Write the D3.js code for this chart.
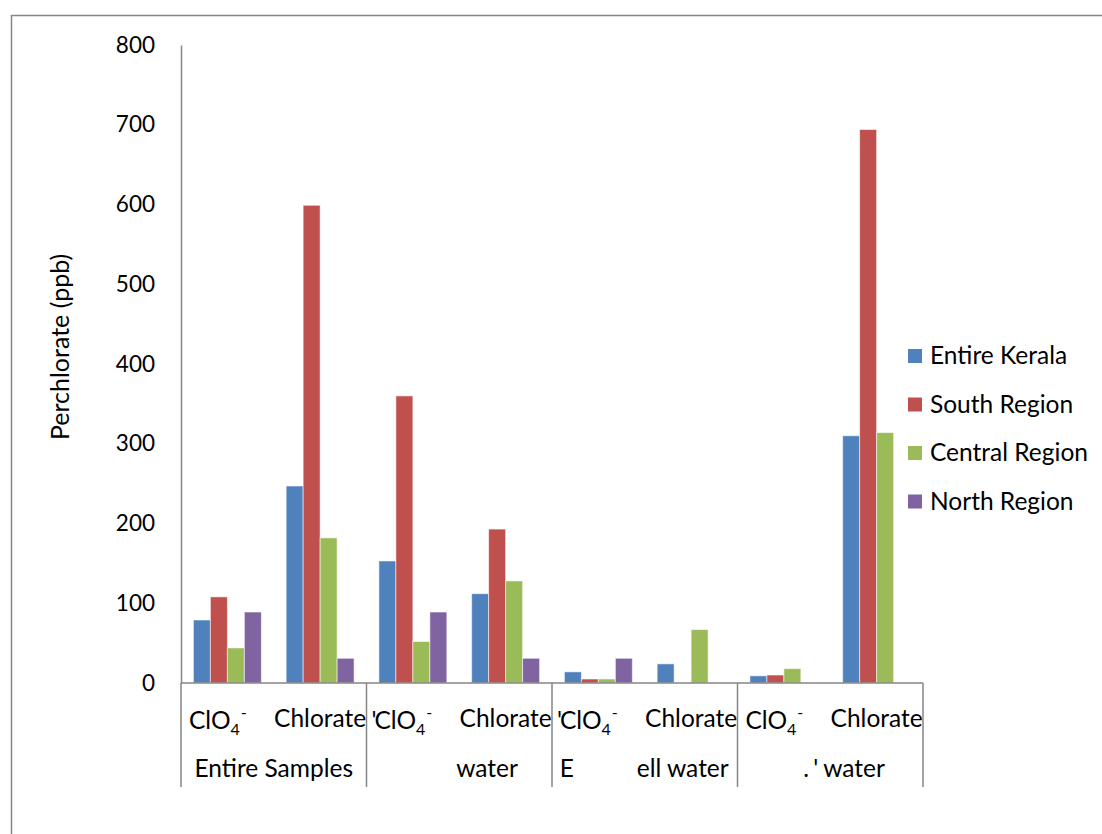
<!DOCTYPE html>
<html>
<head>
<meta charset="utf-8">
<script src="https://cdn.jsdelivr.net/npm/d3@7"></script>
<style>
  html, body { margin: 0; padding: 0; background: #fff; }
  svg { display: block; font-family: Lato, "Open Sans", sans-serif; }
</style>
</head>
<body>
<svg id="chart" width="1102" height="834"></svg>
<script>
// ---- data ----
const groups = ["g1", "g2", "g3", "g4"];
const categories = ["ClO4", "Chlorate"];
const seriesNames = ["Entire Kerala", "South Region", "Central Region", "North Region"];
const entireKerala  = [79, 247, 153, 112, 14, 24, 9, 310];
const southRegion   = [108, 599, 360, 193, 5, 0, 10, 694];
const centralRegion = [44, 182, 52, 128, 5, 67, 18, 314];
const northRegion   = [89, 31, 89, 31, 31, 0, 0, 0];
const seriesColors = ["#4F81BD", "#C0504D", "#9BBB59", "#8064A2"];
// visible group-label fragments: [text, offset-from-group-center, anchor]
const groupLabels = [
  [["Entire Samples", 0, "middle"]],
  [["water", -3, "start"]],
  [["E", -85, "start"], ["ell water", -8, "start"]],
  [[".", -27, "start"], ["'", -17, "start"], ["water", -7, "start"]]
];
// stray partial marks left of some ClO4 labels
const strayMarks = [null, "'", "'", null];
const yTicks = [0, 100, 200, 300, 400, 500, 600, 700, 800];

const seriesValues = [entireKerala, southRegion, centralRegion, northRegion];

// ---- layout ----
const svg = d3.select("#chart");
const axisColor = "#868686";

// outer frame (left and top visible)
svg.append("path")
  .attr("d", "M11.5,834 L11.5,15.5 L1102,15.5")
  .attr("fill", "none").attr("stroke", axisColor).attr("stroke-width", 1.5);

const y = d3.scaleLinear().domain([0, 800]).range([683, 45]);
const xGroup = d3.scaleBand().domain(groups).range([181, 923]).padding(0);
const xCat = d3.scaleBand().domain(categories).range([0, xGroup.bandwidth()]).padding(0);
const xSer = d3.scaleBand().domain(seriesNames).range([0, xCat.bandwidth()])
  .paddingInner(0).paddingOuter(0.73);

// bars
const barData = [];
groups.forEach((g, gi) => {
  categories.forEach((c, ci) => {
    const idx = gi * 2 + ci;
    seriesNames.forEach((s, si) => {
      barData.push({g, c, s, si, v: seriesValues[si][idx]});
    });
  });
});
svg.append("g").selectAll("rect").data(barData.filter(d => d.v > 0)).join("rect")
  .attr("x", d => xGroup(d.g) + xCat(d.c) + xSer(d.s))
  .attr("y", d => y(d.v))
  .attr("width", xSer.bandwidth())
  .attr("height", d => y(0) - y(d.v))
  .attr("fill", d => seriesColors[d.si])
  .attr("stroke", "rgba(255,255,255,0.55)")
  .attr("stroke-width", 1);

// y axis
const yAxis = d3.axisLeft(y).tickValues(yTicks).tickSize(0).tickSizeOuter(0).tickPadding(26);
const gy = svg.append("g").attr("transform", "translate(181,0)").call(yAxis);
gy.select(".domain").attr("stroke", axisColor).attr("stroke-width", 1.5);
gy.selectAll("text").attr("font-family", "Lato, sans-serif").attr("font-size", 22.5).attr("fill", "#000");

// x axis line
svg.append("line").attr("x1", 181).attr("x2", 923).attr("y1", 683).attr("y2", 683)
  .attr("stroke", axisColor).attr("stroke-width", 1.5);
// group separators
const seps = groups.map(g => xGroup(g)).concat([xGroup.range()[1]]);
svg.append("g").selectAll("line").data(seps).join("line")
  .attr("x1", d => d).attr("x2", d => d).attr("y1", 683).attr("y2", 787)
  .attr("stroke", axisColor).attr("stroke-width", 1.5);

// category labels
const catG = svg.append("g").attr("font-size", 24.5).attr("fill", "#000");
groups.forEach((g, gi) => {
  const x0 = xGroup(g);
  if (strayMarks[gi]) {
    catG.append("text").attr("x", x0 + 5).attr("y", 729).text(strayMarks[gi]);
  }
  // ClO4-
  const t = catG.append("text").attr("x", x0 + xCat("ClO4") + 8).attr("y", 729);
  t.append("tspan").text("ClO");
  t.append("tspan").attr("font-size", 16).attr("dy", 6).text("4");
  t.append("tspan").attr("font-size", 16).attr("dy", -17).attr("dx", 1).text("-");
  // Chlorate
  catG.append("text").attr("x", x0 + xCat("Chlorate") + xCat.bandwidth() / 2).attr("y", 727)
    .attr("text-anchor", "middle").text("Chlorate");
});

// group labels
const grpG = svg.append("g").attr("font-size", 24.5).attr("fill", "#000");
groups.forEach((g, gi) => {
  const cx = xGroup(g) + xGroup.bandwidth() / 2;
  groupLabels[gi].forEach(([txt, off, anchor]) => {
    grpG.append("text").attr("x", cx + off).attr("y", 777).attr("text-anchor", anchor).text(txt);
  });
});

// y axis title
svg.append("text").attr("transform", "translate(69,347) rotate(-90)")
  .attr("text-anchor", "middle").attr("font-size", 25).attr("fill", "#000")
  .text("Perchlorate (ppb)");

// legend
const legend = svg.append("g");
seriesNames.forEach((s, i) => {
  const cy = 356 + i * 48.5;
  legend.append("rect").attr("x", 908).attr("y", cy - 7).attr("width", 14).attr("height", 14)
    .attr("fill", seriesColors[i]);
  legend.append("text").attr("x", 930).attr("y", cy + 8).attr("font-size", 24.5).attr("fill", "#000").text(s);
});
</script>
</body>
</html>
